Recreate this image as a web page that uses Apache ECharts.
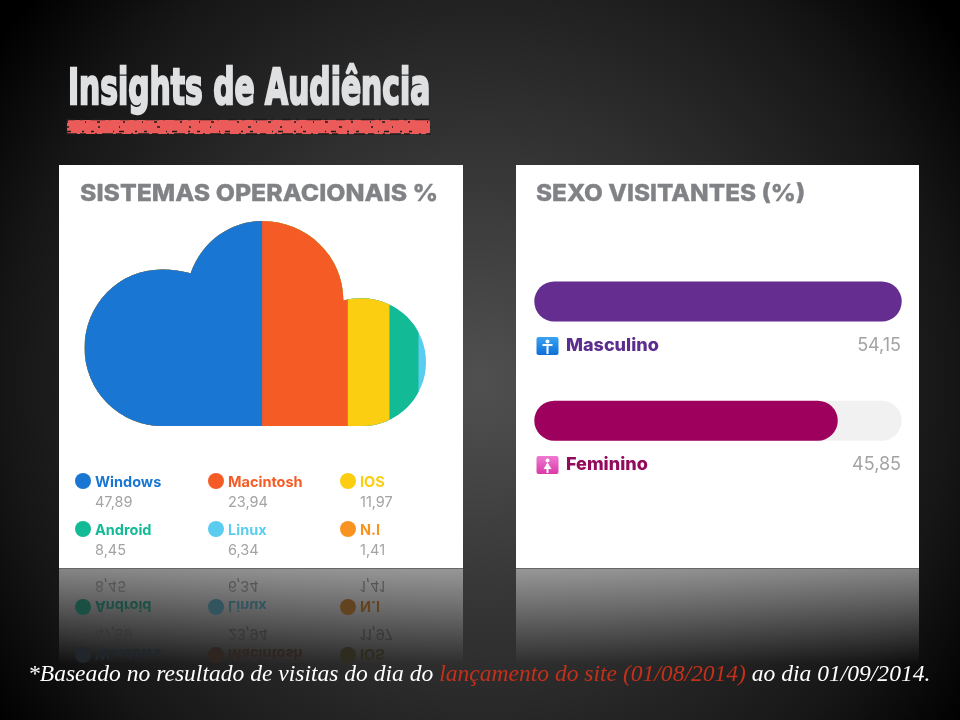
<!DOCTYPE html>
<html>
<head>
<meta charset="utf-8">
<style>html,body{margin:0;padding:0;background:#000}#chart{width:960px;height:720px}</style>
<script src="https://cdn.jsdelivr.net/npm/echarts@6/dist/echarts.min.js"></script>
</head>
<body>
<div id="chart"></div>
<script>
// sistemas operacionais
const osNames = ['Windows', 'Macintosh', 'IOS', 'Android', 'Linux', 'N.I'];
const osLabels = ['47,89', '23,94', '11,97', '8,45', '6,34', '1,41'];
const osColors = ['#1976d2', '#f45b25', '#fbce12', '#12ba96', '#5accf0', '#f7931e'];
// largura de cada faixa da nuvem (N.I nao aparece)
const cloudShares = [52.0, 25.1, 12.2, 8.5, 2.2, 0];

// sexo visitantes
const sexNames = ['Masculino', 'Feminino'];
const sexLabels = ['54,15', '45,85'];
const sexColors = ['#662d91', '#9e005d'];
// comprimento das barras como desenhado na figura
const sexFill = [100, 82.6];

const CLOUD_PATH = 'path://M162 426A77.5 78.3 0 0 1 84.5 347.7A77.5 78.3 0 0 1 162 269.4A105 105 0 0 1 190.7 273.3'
  + 'A76 79 0 0 1 262.3 221A81 79 0 0 1 343.3 300.5A64 64 0 0 1 361.7 298.3A64.3 63.9 0 0 1 426 362.2A64 63.8 0 0 1 362 426Z';
const SANS = 'Inter, "Open Sans", sans-serif';

function fadeColor(hex, y) {
  // cor refletida: mistura com o fundo conforme desce
  const a = Math.max(0, 0.5 * (1 - (y - 568) / 100));
  const n = parseInt(hex.slice(1), 16);
  const mix = c => Math.round(c * a + 32 * (1 - a));
  return `rgb(${mix(n >> 16)},${mix((n >> 8) & 255)},${mix(n & 255)})`;
}

function text(x, y, str, font, fill, extra, styleExtra) {
  return Object.assign({
    type: 'text', x, y, silent: true,
    style: Object.assign({ text: str, font, fill, textAlign: 'left', textVerticalAlign: 'middle' }, styleExtra || {})
  }, extra || {});
}

function buildLegend() {
  const out = [];
  const colX = [83, 216, 348];
  const rowY = [481, 529];
  osNames.forEach((name, i) => {
    const cx = colX[i % 3];
    const y = rowY[Math.floor(i / 3)];
    const color = osColors[i];
    out.push({ type: 'circle', silent: true, shape: { cx, cy: y, r: 8 }, style: { fill: color } });
    out.push(text(cx + 12, y + 2, name, `700 14.5px ${SANS}`, color));
    out.push(text(cx + 12, y + 22, osLabels[i], `400 14.5px ${SANS}`, '#a3a3a3'));
    // reflexo
    const my = 2 * 568 - y;
    out.push({ type: 'circle', silent: true, shape: { cx, cy: my, r: 8 }, style: { fill: fadeColor(color, my) } });
    out.push(text(cx + 12, my - 2, name, `700 14.5px ${SANS}`, fadeColor(color, my), { scaleY: -1 }));
    out.push(text(cx + 12, my - 22, osLabels[i], `400 14.5px ${SANS}`, fadeColor('#a3a3a3', my - 22), { scaleY: -1 }));
  });
  return out;
}

function sexIcon(x, y, color, top, female) {
  const fig = [
    { type: 'rect', silent: true, shape: { x, y, width: 22, height: 18, r: 2 },
      style: { fill: new echarts.graphic.LinearGradient(0, 0, 0, 1, [{ offset: 0, color: top }, { offset: 1, color }]) } },
    { type: 'circle', silent: true, shape: { cx: x + 11, cy: y + 4.5, r: 2 }, style: { fill: '#fff' } }
  ];
  if (female) {
    fig.push({ type: 'polygon', silent: true, shape: { points: [[x + 11, y + 6.5], [x + 15, y + 13], [x + 7, y + 13]] }, style: { fill: '#fff' } });
    fig.push({ type: 'rect', silent: true, shape: { x: x + 10, y: y + 12, width: 2, height: 5 }, style: { fill: '#fff' } });
  } else {
    fig.push({ type: 'rect', silent: true, shape: { x: x + 6, y: y + 7, width: 10, height: 2 }, style: { fill: '#fff' } });
    fig.push({ type: 'rect', silent: true, shape: { x: x + 10, y: y + 7, width: 2, height: 10 }, style: { fill: '#fff' } });
  }
  return fig;
}

function buildBackdrop() {
  const RG = echarts.graphic.RadialGradient;
  const LG = echarts.graphic.LinearGradient;
  const els = [
    { type: 'rect', silent: true, shape: { x: 0, y: 0, width: 960, height: 720 },
      style: { fill: new RG(0.5, 0.53, 0.82, [
        { offset: 0, color: '#505050' }, { offset: 0.45, color: '#303030' }, { offset: 0.8, color: '#161616' }, { offset: 1, color: '#000000' }]) } },
    text(68, 91, 'Insights de Audiência', '700 50px "DejaVu Sans"', '#dfe0e2', { scaleX: 0.596 },
      { stroke: '#dfe0e2', lineWidth: 2.5 }),
    { type: 'rect', silent: true, shape: { x: 67, y: 120, width: 363, height: 14, r: 2 }, style: { fill: '#ea5b59' } }
  ];
  // riscos do sublinhado
  [[119.5, [9, 5, 3, 8, 14, 4, 2, 9]], [122, [2, 17, 1, 11, 3, 23]], [127, [3, 29, 2, 19, 1, 37]], [131.5, [5, 11, 2, 7, 3, 19, 1, 5]], [134, [11, 3, 6, 9, 2, 5]]].forEach(([y, dash]) => {
    els.push({ type: 'line', silent: true, shape: { x1: 66, y1: y, x2: 431, y2: y },
      style: { stroke: '#1c1c1c', lineWidth: 1.4, lineDash: dash } });
  });
  [[59, 404], [516, 403]].forEach(([x, w]) => {
    els.push({ type: 'rect', silent: true, shape: { x, y: 165, width: w, height: 403 }, style: { fill: '#ffffff' } });
    els.push({ type: 'rect', silent: true, shape: { x, y: 568, width: w, height: 96 },
      style: { fill: new LG(0, 0, 0, 1, [{ offset: 0, color: 'rgba(255,255,255,0.48)' }, { offset: 1, color: 'rgba(255,255,255,0)' }]) } });
    els.push({ type: 'line', silent: true, shape: { x1: x, y1: 568.5, x2: x + w, y2: 568.5 }, style: { stroke: '#666', lineWidth: 1 } });
  });
  els.push(text(80, 194, 'SISTEMAS OPERACIONAIS %', `800 23px ${SANS}`, '#808285', { scaleX: 1.08 }, { stroke: '#808285', lineWidth: 0.3 }));
  els.push(text(536, 194, 'SEXO VISITANTES (%)', `800 23px ${SANS}`, '#808285', { scaleX: 1.06 }, { stroke: '#808285', lineWidth: 0.3 }));
  els.push(...buildLegend());
  els.push(...sexIcon(536.5, 337, '#0d6fd8', '#39a3f2', false));
  els.push(...sexIcon(536.5, 456, '#d93aa8', '#f07ad0', true));
  els.push(text(566, 345.5, sexNames[0], `800 18px ${SANS}`, '#5b2d8e'));
  els.push(text(566, 465, sexNames[1], `800 18px ${SANS}`, '#93095c'));
  els.push(text(901, 345.5, sexLabels[0], `400 18px ${SANS}`, '#a3a3a3', null, { textAlign: 'right' }));
  els.push(text(901, 465, sexLabels[1], `400 18px ${SANS}`, '#a3a3a3', null, { textAlign: 'right' }));
  // rodape
  const footFont = 'italic 400 23.55px "Liberation Serif"';
  els.push({ type: 'text', x: 28, y: 675, silent: true, style: {
    text: '{w|*Baseado no resultado de visitas do dia do }{r|lançamento do site (01/08/2014)}{w| ao dia 01/09/2014.}',
    textVerticalAlign: 'middle',
    rich: { w: { font: footFont, fill: '#ffffff' }, r: { font: footFont, fill: '#c4301a' } }
  } });
  return els;
}

// faixas acumuladas, a maior fica por baixo
let acc = 0;
const cloudEdges = cloudShares.map(v => (acc += v));
const cloudSeries = cloudEdges.map((edge, i) => ({
  type: 'pictorialBar',
  xAxisIndex: 0,
  yAxisIndex: 0,
  symbol: CLOUD_PATH,
  symbolSize: ['100%', 205],
  symbolBoundingData: 100,
  symbolClip: true,
  symbolPosition: 'start',
  itemStyle: { color: osColors[i] },
  silent: true,
  data: [edge]
})).filter((s, i) => cloudShares[i] > 0).reverse();

const chart = echarts.init(document.getElementById('chart'));
chart.setOption({
  animation: false,
  graphic: { elements: buildBackdrop() },
  grid: [
    { left: 84.5, top: 221, width: 341.5, height: 205 },
    { left: 534.3, top: 241.9, width: 367.4, height: 238.4 }
  ],
  xAxis: [
    { type: 'value', gridIndex: 0, min: 0, max: 100, show: false },
    { type: 'value', gridIndex: 1, min: 0, max: 100, show: false }
  ],
  yAxis: [
    { type: 'category', gridIndex: 0, data: ['nuvem'], show: false },
    { type: 'category', gridIndex: 1, data: sexNames, inverse: true, show: false }
  ],
  series: [
    ...cloudSeries,
    {
      type: 'bar',
      xAxisIndex: 1,
      yAxisIndex: 1,
      barWidth: 40,
      silent: true,
      showBackground: true,
      backgroundStyle: { color: '#f1f1f1', borderRadius: 20 },
      itemStyle: { borderRadius: 20 },
      data: sexFill.map((v, i) => ({ value: v, itemStyle: { color: sexColors[i] } }))
    }
  ]
});
</script>
</body>
</html>
